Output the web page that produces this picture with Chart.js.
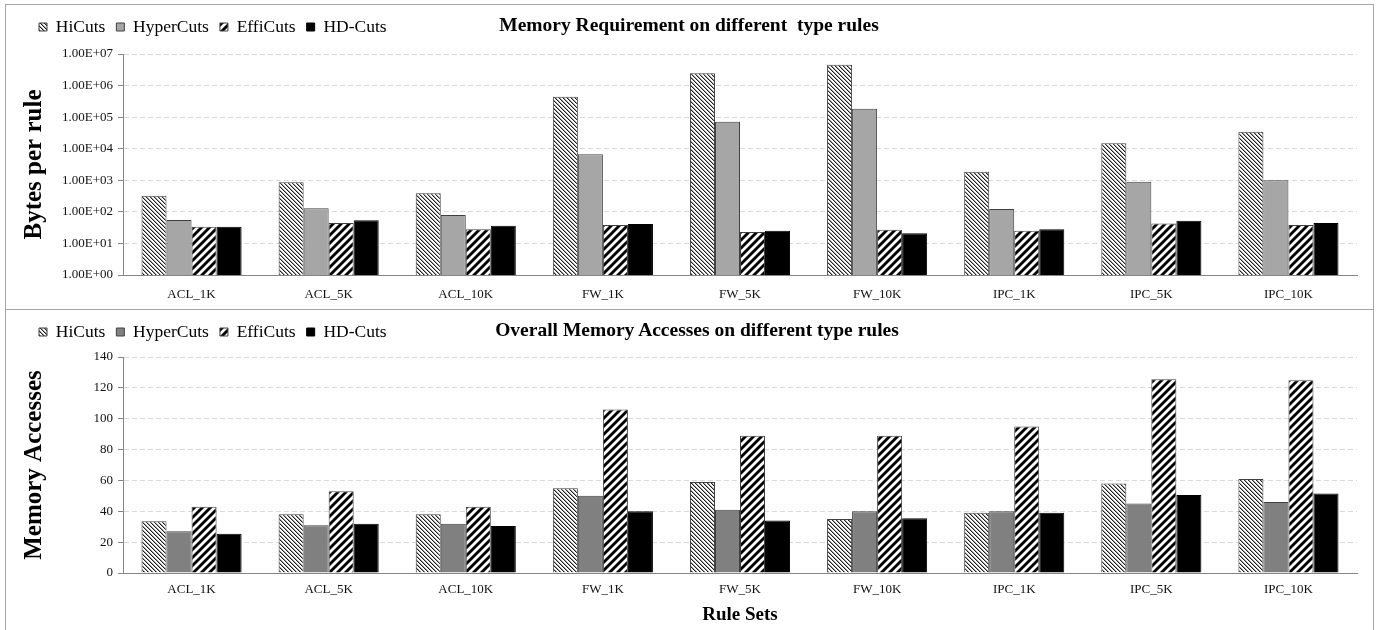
<!DOCTYPE html>
<html><head><meta charset="utf-8">
<script src="https://cdn.jsdelivr.net/npm/chart.js@4/dist/chart.umd.min.js"></script>
<style>
html,body{margin:0;padding:0;background:#fff;}
body{width:1386px;height:630px;position:relative;overflow:hidden;font-family:"Liberation Serif",serif;}
.panel{position:absolute;left:5px;width:1369px;border:1px solid #a6a6a6;box-sizing:border-box;background:#fff;}
#p1{top:4px;height:306px;}
#p2{top:309px;height:330px;}
.panel canvas{position:absolute;left:0;top:0;}
.ttl{position:absolute;white-space:pre;font:bold 19.5px "Liberation Serif",serif;color:#000;transform:translate(-50%,-50%);z-index:2;}
</style></head>
<body>
<div class="panel" id="p1"><canvas id="c1" width="1367" height="304"></canvas></div>
<div class="panel" id="p2"><canvas id="c2" width="1367" height="320"></canvas></div>
<div class="ttl" style="left:689px;top:25px;">Memory Requirement on different  type rules</div>
<div class="ttl" style="left:697px;top:330px;">Overall Memory Accesses on different type rules</div>
<script>
const categories = ['ACL_1K','ACL_5K','ACL_10K','FW_1K','FW_5K','FW_10K','IPC_1K','IPC_5K','IPC_10K'];
const seriesNames = ['HiCuts','HyperCuts','EffiCuts','HD-Cuts'];

// Bytes per rule (log scale)
const hiCutsMem    = [325, 870, 390, 445000, 2450000, 4600000, 1880, 14800, 34700];
const hyperCutsMem = [55, 130, 80, 6650, 72000, 185000, 123, 900, 1000];
const effiCutsMem  = [34, 44, 28, 38, 23, 27, 25, 43, 38];
const hdCutsMem    = [34, 54, 36, 41, 25, 21, 28, 52, 44];

// Overall memory accesses
const hiCutsAcc    = [33.5, 38, 38, 55, 59, 35, 39, 58, 61];
const hyperCutsAcc = [27, 31, 32, 50, 41, 40, 40, 45, 46];
const effiCutsAcc  = [43, 53, 43, 106, 89, 89, 95, 125.5, 125];
const hdCutsAcc    = [25.5, 32, 30.5, 40, 34, 35.5, 39, 50.5, 51.5];

const memTickValues = [1, 10, 100, 1000, 10000, 100000, 1000000, 10000000];
const accTickValues = [0, 20, 40, 60, 80, 100, 120, 140];

const FONT = 'Liberation Serif';

function fmtExp(v){
  const s = Number(v).toExponential(2).split('e');
  const e = parseInt(s[1], 10);
  return s[0] + 'E' + (e < 0 ? '-' : '+') + String(Math.abs(e)).padStart(2, '0');
}

function tile(size, painter){
  const c = document.createElement('canvas');
  c.width = c.height = size;
  const g = c.getContext('2d');
  g.fillStyle = '#fff'; g.fillRect(0, 0, size, size);
  painter(g, size);
  return g.createPattern(c, 'repeat');
}
const hiPattern = tile(4, (g, s) => {
  for (let y = 0; y < s; y++) for (let x = 0; x < s; x++) {
    const d = ((x - y) % s + s) % s;
    if (d === 0) { g.fillStyle = '#1e1e1e'; g.fillRect(x, y, 1, 1); }
    else if (d === 1) { g.fillStyle = '#a0a0a0'; g.fillRect(x, y, 1, 1); }
  }
});
const effiPattern = tile(8, (g, s) => {
  for (let y = 0; y < s; y++) for (let x = 0; x < s; x++) {
    const d = (x + y) % s;
    if (d < 3) { g.fillStyle = '#000'; g.fillRect(x, y, 1, 1); }
    else if (d === 3 || d === 7) { g.fillStyle = '#7a7a7a'; g.fillRect(x, y, 1, 1); }
  }
});

// extra space below the legend row (legend and chart title share one line)
const legendGap = {
  id: 'legendGap',
  afterInit(chart, args, opts){
    const lg = chart.legend;
    if (!lg || lg._gapPatched) return;
    const orig = lg.fit;
    lg.fit = function(){ orig.call(this); this.height += (opts.extra || 0); };
    lg._gapPatched = true;
  }
};

function buildDatasets(values, hyperColor){
  const fills = [hiPattern, hyperColor, effiPattern, '#000'];
  const borders = ['#404040', '#404040', '#404040', '#000'];
  return values.map((arr, i) => ({
    label: seriesNames[i], data: arr,
    backgroundColor: fills[i], borderColor: borders[i], borderWidth: 1
  }));
}

function baseOptions(cfg){
  return {
    responsive: false, animation: false, devicePixelRatio: 1,
    layout: { padding: { left: 22, top: 2.25, right: 0, bottom: 0 } },
    datasets: { bar: { categoryPercentage: 0.73, barPercentage: 1 } },
    plugins: {
      legendGap: { extra: cfg.legendExtra },
      legend: { position: 'top', align: 'start',
        labels: { boxWidth: 8, boxHeight: 8, padding: 11, color: '#000', font: { family: FONT, size: 17.5 } } },
      title: { display: false },
      tooltip: { enabled: false }
    },
    scales: {
      x: {
        grid: { display: false },
        border: { display: true, color: '#868686', width: 1 },
        ticks: { padding: cfg.xPad, color: '#111', font: { family: FONT, size: 13 }, maxRotation: 0, autoSkip: false },
        title: cfg.xTitle ? { display: true, text: cfg.xTitle, color: '#000', font: { family: FONT, size: 19, weight: 'bold' }, padding: { top: 0, bottom: 3.6 } } : { display: false },
        afterFit(s){ s.height = cfg.xHeight; s.paddingLeft = 0; s.paddingRight = 16; }
      },
      y: Object.assign({
        afterBuildTicks(s){ s.ticks = cfg.tickValues.map(v => ({ value: v })); },
        ticks: { padding: 5, color: '#111', font: { family: FONT, size: 13 }, callback: cfg.tickFmt },
        grid: { color: '#d9d9d9', lineWidth: 1, tickColor: '#868686', tickLength: 5, tickBorderDash: [] },
        border: { display: true, color: '#868686', width: 1, dash: [5, 3] },
        title: { display: true, text: cfg.yTitle, color: '#000', font: { family: FONT, size: 25, weight: 'bold' }, padding: { top: -8, bottom: 0 } },
        afterFit(s){ s.width = 95; }
      }, cfg.yExtra)
    }
  };
}

new Chart(document.getElementById('c1'), {
  type: 'bar',
  data: { labels: categories, datasets: buildDatasets([hiCutsMem, hyperCutsMem, effiCutsMem, hdCutsMem], '#a6a6a6') },
  options: baseOptions({
    xPad: 4, xHeight: 34, legendExtra: 8.25, tickValues: memTickValues,
    tickFmt: v => fmtExp(v), yTitle: 'Bytes per rule',
    yExtra: { type: 'logarithmic', min: 1, max: 10000000 }
  }),
  plugins: [legendGap]
});

new Chart(document.getElementById('c2'), {
  type: 'bar',
  data: { labels: categories, datasets: buildDatasets([hiCutsAcc, hyperCutsAcc, effiCutsAcc, hdCutsAcc], '#808080') },
  options: baseOptions({
    xPad: 1, xHeight: 57, legendExtra: 6.25, tickValues: accTickValues,
    tickFmt: v => String(v), yTitle: 'Memory Accesses', xTitle: 'Rule Sets',
    yExtra: { type: 'linear', min: 0, max: 140 }
  }),
  plugins: [legendGap]
});
</script>
</body></html>
